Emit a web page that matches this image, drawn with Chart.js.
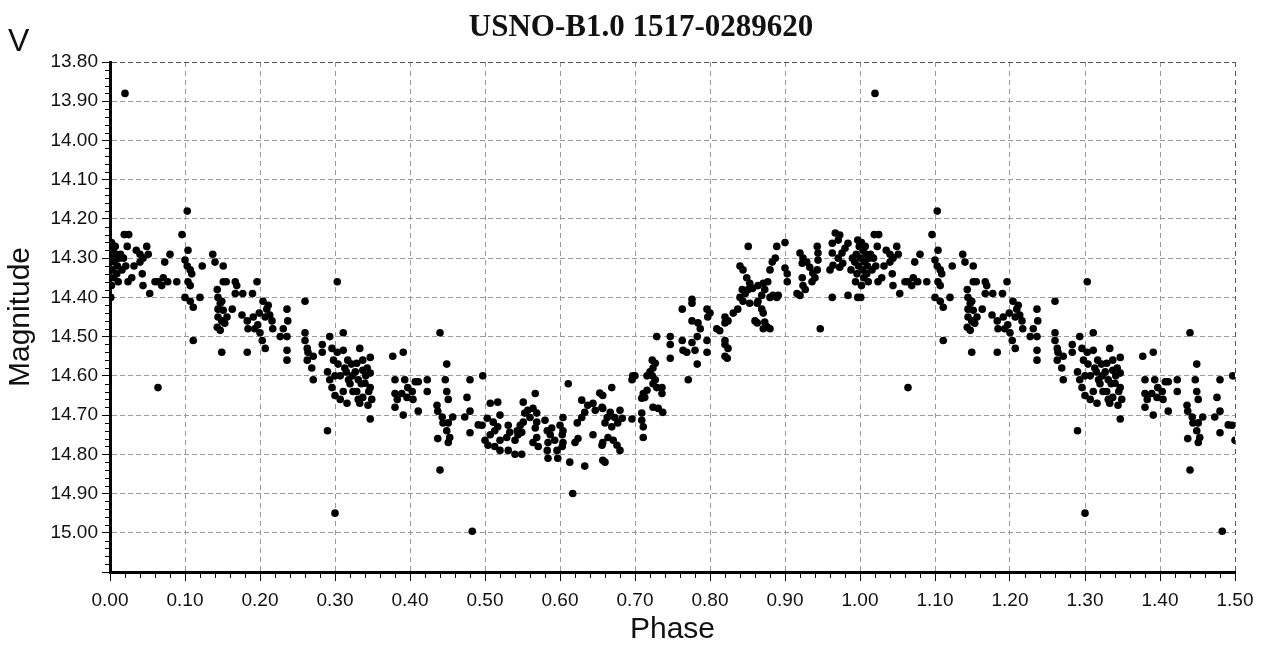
<!DOCTYPE html>
<html>
<head>
<meta charset="utf-8">
<title>USNO-B1.0 1517-0289620</title>
<script src="https://cdn.jsdelivr.net/npm/chart.js@4/dist/chart.umd.min.js"></script>
<style>
  html, body { margin: 0; padding: 0; background: #fff; }
  canvas { display: block; }
</style>
</head>
<body>
<canvas id="lightCurve" width="1265" height="648"></canvas>
<script>
// Phase-folded light curve, one cycle (0 - 1).
const phase = [
  0.002, 0.004, 0.001, 0.006, 0.003, 0.008, 0.010, 0.005, 0.002, 0.009, 0.012, 0.001, 0.007, 0.011,
  0.020, 0.019, 0.025, 0.023, 0.018, 0.016, 0.021, 0.024, 0.029, 0.014,
  0.040, 0.044, 0.049, 0.051, 0.040, 0.043, 0.044, 0.053, 0.035, 0.032,
  0.060, 0.064, 0.069, 0.071, 0.077, 0.073, 0.080, 0.089, 0.096, 0.064,
  0.104, 0.100, 0.103, 0.107, 0.109, 0.104, 0.107, 0.100, 0.107, 0.120, 0.111, 0.103, 0.111,
  0.123, 0.137, 0.140, 0.151, 0.149, 0.151,
  0.143, 0.144, 0.147, 0.149, 0.144, 0.151, 0.144, 0.149, 0.143, 0.147, 0.156, 0.153, 0.155,
  0.167, 0.169, 0.167, 0.177, 0.163, 0.176, 0.183, 0.184, 0.191, 0.196, 0.190, 0.183,
  0.197, 0.200, 0.203, 0.207, 0.193, 0.204, 0.209, 0.213, 0.216, 0.207, 0.217, 0.211, 0.199,
  0.236, 0.237, 0.231, 0.227, 0.236, 0.236, 0.236, 0.260,
  0.260, 0.260, 0.263, 0.264, 0.263, 0.271, 0.269, 0.271, 0.283, 0.283, 0.293, 0.296,
  0.303, 0.290, 0.296, 0.300, 0.307, 0.304, 0.311, 0.311, 0.313, 0.303, 0.311, 0.320, 0.323, 0.324, 0.290, 0.300,
  0.317, 0.300, 0.307, 0.316, 0.318, 0.298, 0.293, 0.315, 0.322, 0.335, 0.343,
  0.333, 0.347, 0.337, 0.329, 0.337, 0.347, 0.327, 0.331, 0.340, 0.347, 0.329, 0.337, 0.349, 0.331, 0.333, 0.344, 0.347, 0.341, 0.345,
  0.377, 0.391, 0.380, 0.380, 0.383, 0.380, 0.391,
  0.393, 0.397, 0.403, 0.407, 0.411, 0.404, 0.396, 0.389, 0.411, 0.423, 0.423,
  0.440, 0.449, 0.447, 0.449, 0.451, 0.436, 0.437, 0.443, 0.444, 0.451, 0.449, 0.453, 0.451, 0.437, 0.457, 0.440,
  0.480, 0.476, 0.480, 0.473, 0.480, 0.491, 0.483, 0.497,
  0.507, 0.517, 0.496, 0.503, 0.511, 0.520, 0.513, 0.507, 0.500, 0.504, 0.513, 0.520, 0.520, 0.517, 0.531, 0.533, 0.529,
  0.531, 0.540, 0.549, 0.551, 0.567,
  0.553, 0.557, 0.564, 0.560, 0.551, 0.547, 0.543, 0.544, 0.540, 0.549,
  0.569, 0.569, 0.567, 0.569, 0.564, 0.571,
  0.580, 0.583, 0.589, 0.587, 0.584, 0.593, 0.596, 0.583, 0.584, 0.597,
  0.600, 0.604, 0.604, 0.603, 0.604, 0.603, 0.611, 0.613, 0.617, 0.633, 0.620, 0.624,
  0.623, 0.629, 0.633, 0.629, 0.637, 0.644, 0.647, 0.653, 0.656, 0.644, 0.657, 0.657,
  0.657, 0.669, 0.657, 0.663, 0.667, 0.673, 0.680, 0.683, 0.660, 0.669, 0.677, 0.664, 0.671, 0.676, 0.680, 0.656, 0.660,
  0.696, 0.697, 0.696, 0.700, 0.709, 0.709, 0.711, 0.711,
  0.711, 0.713, 0.709, 0.716, 0.716, 0.720, 0.723, 0.727, 0.724, 0.729, 0.736, 0.736,
  0.723, 0.727, 0.724, 0.724, 0.731, 0.737, 0.729,
  0.747, 0.747, 0.747, 0.763, 0.764, 0.769, 0.776, 0.780, 0.771, 0.763,
  0.776, 0.776, 0.776, 0.784, 0.787, 0.783, 0.783, 0.796, 0.797, 0.800, 0.796, 0.796,
  0.809, 0.813, 0.820, 0.820, 0.820,
  0.851, 0.840, 0.844, 0.889, 0.900, 0.887, 0.883, 0.880,
  0.849, 0.853, 0.851, 0.847, 0.857, 0.864, 0.871, 0.877, 0.873, 0.869, 0.864, 0.863, 0.843, 0.840, 0.844, 0.853,
  0.820, 0.824, 0.831, 0.837, 0.820, 0.824, 0.823,
  0.860, 0.863, 0.873, 0.876, 0.880, 0.871, 0.869, 0.871,
  0.880, 0.884, 0.889, 0.891, 0.900, 0.903, 0.903,
  0.916, 0.920, 0.924, 0.927, 0.923,
  0.920, 0.924, 0.923, 0.929, 0.933, 0.937, 0.943, 0.940, 0.936, 0.943, 0.944, 0.944, 0.947,
  0.963, 0.984, 0.997,
  0.963, 0.967, 0.973, 0.971, 0.963, 0.960, 0.964, 0.971, 0.976, 0.980, 0.984, 0.977, 0.973,
  0.997, 0.999, 0.995, 0.993, 0.998, 0.996, 0.994, 0.990, 0.988
];

const magnitude = [
  14.26, 14.28, 14.30, 14.31, 14.33, 14.29, 14.32, 14.35, 14.37, 14.34, 14.30, 14.40, 14.27, 14.36,
  13.88, 14.24, 14.24, 14.27, 14.30, 14.33, 14.32, 14.36, 14.35, 14.29,
  14.29, 14.30, 14.27, 14.29, 14.31, 14.34, 14.37, 14.39, 14.28, 14.32,
  14.36, 14.36, 14.37, 14.35, 14.36, 14.31, 14.29, 14.36, 14.24, 14.63,
  14.28, 14.305, 14.32, 14.33, 14.34, 14.36, 14.37, 14.40, 14.41, 14.40, 14.425, 14.18, 14.51,
  14.32, 14.29, 14.31, 14.32, 14.54, 14.36,
  14.38, 14.40, 14.415, 14.41, 14.43, 14.433, 14.45, 14.46, 14.476, 14.484, 14.45, 14.466, 14.36,
  14.36, 14.37, 14.39, 14.39, 14.43, 14.445, 14.46, 14.48, 14.45, 14.36, 14.39, 14.54,
  14.47, 14.49, 14.51, 14.53, 14.48, 14.41, 14.43, 14.445, 14.46, 14.45, 14.48, 14.42, 14.44,
  14.43, 14.46, 14.48, 14.50, 14.50, 14.535, 14.56, 14.41,
  14.49, 14.51, 14.53, 14.54, 14.56, 14.55, 14.58, 14.61, 14.52, 14.54, 14.50, 14.53,
  14.36, 14.59, 14.63, 14.65, 14.60, 14.57, 14.535, 14.49, 14.58, 14.54, 14.64, 14.62, 14.60, 14.64, 14.74, 14.95,
  14.56, 14.60, 14.66, 14.67, 14.61, 14.56, 14.61, 14.59, 14.57, 14.62, 14.58,
  14.53, 14.553, 14.56, 14.568, 14.586, 14.593, 14.59, 14.61, 14.619, 14.63, 14.64, 14.655, 14.66, 14.66, 14.67, 14.675, 14.71, 14.60, 14.64,
  14.55, 14.54, 14.61, 14.645, 14.66, 14.68, 14.70,
  14.61, 14.63, 14.64, 14.615, 14.615, 14.66, 14.655, 14.645, 14.69, 14.61, 14.64,
  14.49, 14.57, 14.61, 14.64, 14.66, 14.675, 14.69, 14.705, 14.72, 14.72, 14.74, 14.757, 14.77, 14.76, 14.705, 14.84,
  14.61, 14.655, 14.69, 14.705, 14.745, 14.725, 14.996, 14.60,
  14.67, 14.667, 14.726, 14.708, 14.718, 14.70, 14.74, 14.75, 14.764, 14.777, 14.78, 14.79, 14.764, 14.73, 14.726, 14.744, 14.757,
  14.79, 14.80, 14.80, 14.667, 14.645,
  14.695, 14.688, 14.683, 14.706, 14.718, 14.726, 14.74, 14.75, 14.764, 14.744,
  14.695, 14.718, 14.733, 14.757, 14.77, 14.78,
  14.713, 14.74, 14.733, 14.75, 14.77, 14.764, 14.79, 14.79, 14.81, 14.81,
  14.726, 14.706, 14.74, 14.75, 14.77, 14.78, 14.62, 14.82, 14.90, 14.83, 14.77, 14.76,
  14.72, 14.706, 14.693, 14.662, 14.675, 14.67, 14.688, 14.644, 14.68, 14.75, 14.77, 14.815,
  14.65, 14.63, 14.683, 14.706, 14.693, 14.706, 14.688, 14.708, 14.72, 14.73, 14.72, 14.757, 14.764, 14.777, 14.79, 14.777, 14.82,
  14.71, 14.60, 14.61, 14.60, 14.695, 14.713, 14.73, 14.757,
  14.645, 14.655, 14.657, 14.637, 14.60, 14.59, 14.60, 14.61, 14.62, 14.63, 14.63, 14.645,
  14.56, 14.568, 14.58, 14.68, 14.683, 14.693, 14.50,
  14.50, 14.52, 14.555, 14.51, 14.535, 14.54, 14.515, 14.535, 14.61, 14.43,
  14.405, 14.415, 14.46, 14.465, 14.48, 14.50, 14.57, 14.43, 14.45, 14.44, 14.51, 14.54,
  14.48, 14.485, 14.465, 14.51, 14.55,
  14.27, 14.32, 14.33, 14.27, 14.26, 14.30, 14.31, 14.33,
  14.35, 14.364, 14.38, 14.39, 14.377, 14.37, 14.364, 14.36, 14.38, 14.395, 14.41, 14.415, 14.38, 14.40, 14.41, 14.415,
  14.45, 14.46, 14.44, 14.43, 14.52, 14.53, 14.555,
  14.46, 14.465, 14.463, 14.475, 14.48, 14.48, 14.43, 14.44,
  14.40, 14.395, 14.40, 14.395, 14.325, 14.34, 14.36,
  14.39, 14.395, 14.37, 14.38, 14.35,
  14.287, 14.30, 14.313, 14.31, 14.323, 14.338, 14.33, 14.35, 14.36, 14.27, 14.287, 14.305, 14.48,
  14.40, 14.395, 14.40,
  14.262, 14.236, 14.241, 14.254, 14.287, 14.33, 14.318, 14.30, 14.287, 14.275, 14.262, 14.313, 14.323,
  14.254, 14.27, 14.29, 14.31, 14.32, 14.34, 14.36, 14.30, 14.33
];

// axis ranges / labels
const phaseRange = [0, 1.5];
const magRange = [13.8, 15.1];
const tickStep = 0.1;
const minorStep = 0.02;

if (phase.length !== magnitude.length) {
  console.error("phase/magnitude length mismatch", phase.length, magnitude.length);
}

// the plot shows 1.5 cycles: phases 0-0.5 are repeated at 1.0-1.5
const points = [];
phase.forEach((p, i) => {
  points.push({ x: p, y: magnitude[i] });
  if (p + 1 <= phaseRange[1]) points.push({ x: p + 1, y: magnitude[i] });
});

const textColor = "#111";
const gridColor = "#9a9a9a";
const edgeColor = "#555";

// ======== Title, "V" and minor ticks ========
const decorations = {
  id: "decorations",
  afterDraw(chart) {
    const { ctx, chartArea, scales } = chart;
    ctx.save();

    ctx.fillStyle = textColor;
    ctx.textBaseline = "middle";
    ctx.textAlign = "center";
    ctx.font = "bold 31px 'Liberation Serif', 'Times New Roman', serif";
    ctx.fillText("USNO-B1.0 1517-0289620", 641, 28);

    ctx.textAlign = "left";
    ctx.font = "32px 'Liberation Sans', Arial, sans-serif";
    ctx.fillText("V", 8, 42);

    // minor ticks
    ctx.strokeStyle = "#000";
    ctx.lineWidth = 1;
    ctx.beginPath();
    const nx = Math.round((phaseRange[1] - phaseRange[0]) / minorStep);
    for (let i = 0; i <= nx; i++) {
      if (i % 5 === 0) continue;
      const px = Math.round(scales.x.getPixelForValue(phaseRange[0] + i * minorStep)) + 0.5;
      ctx.moveTo(px, chartArea.bottom);
      ctx.lineTo(px, chartArea.bottom + 6);
    }
    const ny = Math.round((magRange[1] - magRange[0]) / minorStep);
    for (let i = 0; i <= ny; i++) {
      if (i % 5 === 0) continue;
      const py = Math.round(scales.y.getPixelForValue(magRange[0] + i * minorStep)) + 0.5;
      ctx.moveTo(chartArea.left - 5, py);
      ctx.lineTo(chartArea.left, py);
    }
    ctx.stroke();
    ctx.restore();
  },
};

new Chart(document.getElementById("lightCurve").getContext("2d"), {
  type: "scatter",
  data: {
    datasets: [
      {
        label: "V",
        data: points,
        backgroundColor: "#000",
        borderWidth: 0,
        pointRadius: 3.8,
        pointHoverRadius: 3.8,
      },
    ],
  },
  options: {
    responsive: false,
    devicePixelRatio: 1,
    animation: false,
    layout: { padding: { top: 62, right: 30, bottom: 0, left: 0 } },
    plugins: {
      legend: { display: false },
      tooltip: { enabled: false },
      title: { display: false },
    },
    scales: {
      x: {
        type: "linear",
        min: phaseRange[0],
        max: phaseRange[1],
        afterFit: (s) => { s.height = 76; },
        ticks: {
          stepSize: tickStep,
          padding: 8,
          color: textColor,
          font: { family: "'Liberation Sans', Arial, sans-serif", size: 19 },
          callback: (v) => Number(v).toFixed(2),
          maxRotation: 0,
          autoSkip: false,
        },
        grid: {
          color: (c) => (c.tick && Math.abs(c.tick.value - phaseRange[1]) < 1e-6 ? edgeColor : gridColor),
          lineWidth: 1,
          tickLength: 9,
          tickColor: "#000",
        },
        border: { display: true, color: "#000", width: 3, dash: [5, 4] },
        title: {
          display: true,
          text: "Phase",
          color: textColor,
          font: { family: "'Liberation Sans', Arial, sans-serif", size: 30 },
          padding: { top: 0, bottom: 0 },
        },
      },
      y: {
        type: "linear",
        reverse: true,
        min: magRange[0],
        max: magRange[1],
        afterFit: (s) => { s.width = 110; },
        ticks: {
          stepSize: tickStep,
          padding: 4,
          color: textColor,
          font: { family: "'Liberation Sans', Arial, sans-serif", size: 19 },
          callback: (v) => (v > 15.05 ? "" : Number(v).toFixed(2)),
          autoSkip: false,
        },
        grid: {
          color: (c) => (c.tick && Math.abs(c.tick.value - magRange[0]) < 1e-6 ? edgeColor : gridColor),
          lineWidth: 1,
          tickLength: 8,
          tickColor: "#000",
        },
        border: { display: true, color: "#000", width: 3, dash: [5, 3] },
        title: {
          display: true,
          text: "Magnitude",
          color: textColor,
          font: { family: "'Liberation Sans', Arial, sans-serif", size: 30 },
          padding: { top: 3, bottom: 0 },
        },
      },
    },
  },
  plugins: [decorations],
});
</script>
</body>
</html>
